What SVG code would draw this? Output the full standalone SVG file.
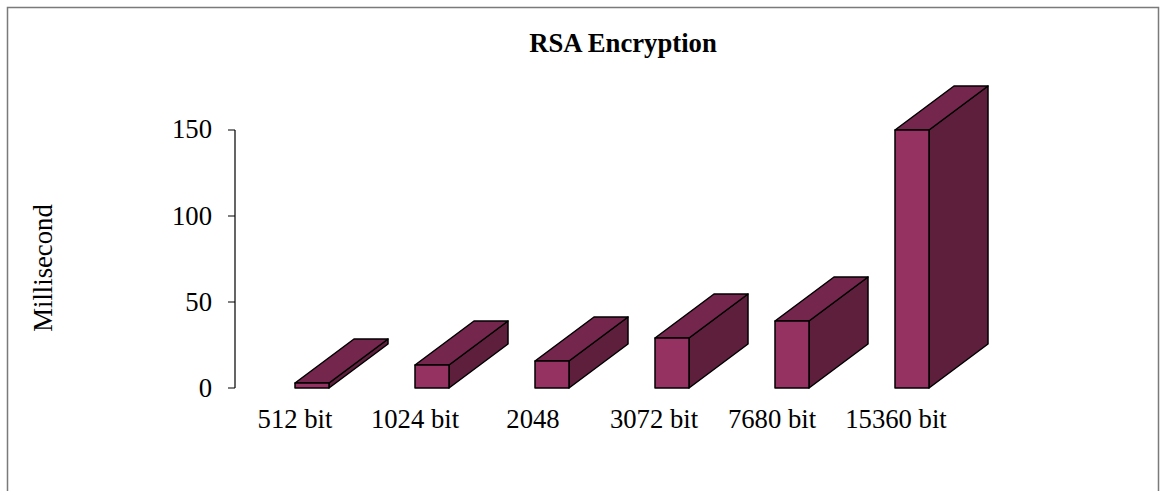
<svg xmlns="http://www.w3.org/2000/svg" width="1160" height="491" viewBox="0 0 1160 491">
  <style>
    text { font-family: "Liberation Serif", "Times New Roman", serif; font-size: 26.7px; fill: #000; }
    .title { font-weight: bold; }
    .front { fill: #953262; stroke: #000; stroke-width: 1.5; stroke-linejoin: round; }
    .top { fill: #74264d; stroke: #000; stroke-width: 1.5; stroke-linejoin: round; }
    .side { fill: #5e1f3d; stroke: #000; stroke-width: 1.5; stroke-linejoin: round; }
    .axis { stroke: #000; stroke-width: 1.2; fill: none; }
  </style>
  <rect width="1160" height="491" fill="#fff"/>
  <!-- chart frame -->
  <path d="M7.5 491 V7.5 H1158.5 V491" fill="none" stroke="#7a7a7a" stroke-width="1.5"/>

  <text class="title" x="623" y="52" text-anchor="middle">RSA Encryption</text>

  <!-- value axis -->
  <g id="y-axis">
    <path class="axis" d="M235 130 V388 M228 130 H235 M228 216 H235 M228 302 H235 M228 388 H235"/>
    <text x="212" y="138" text-anchor="end">150</text>
    <text x="212" y="225" text-anchor="end">100</text>
    <text x="212" y="311" text-anchor="end">50</text>
    <text x="212" y="397" text-anchor="end">0</text>
    <text x="0" y="0" text-anchor="middle" transform="translate(52 268) rotate(-90)">Millisecond</text>
  </g>

  <!-- bars: front face, top, side; depth offset (+59, -44) -->
  <g id="bar-512">
    <polygon class="side" points="329,383 388,339 388,344 329,388"/>
    <polygon class="top" points="295,383 354,339 388,339 329,383"/>
    <rect class="front" x="295" y="383" width="34" height="5"/>
  </g>
  <g id="bar-1024">
    <polygon class="side" points="449,365 508,321 508,344 449,388"/>
    <polygon class="top" points="415,365 474,321 508,321 449,365"/>
    <rect class="front" x="415" y="365" width="34" height="23"/>
  </g>
  <g id="bar-2048">
    <polygon class="side" points="569,361 628,317 628,344 569,388"/>
    <polygon class="top" points="535,361 594,317 628,317 569,361"/>
    <rect class="front" x="535" y="361" width="34" height="27"/>
  </g>
  <g id="bar-3072">
    <polygon class="side" points="689,338 748,294 748,344 689,388"/>
    <polygon class="top" points="655,338 714,294 748,294 689,338"/>
    <rect class="front" x="655" y="338" width="34" height="50"/>
  </g>
  <g id="bar-7680">
    <polygon class="side" points="809,321 868,277 868,344 809,388"/>
    <polygon class="top" points="775,321 834,277 868,277 809,321"/>
    <rect class="front" x="775" y="321" width="34" height="67"/>
  </g>
  <g id="bar-15360">
    <polygon class="side" points="929,130 988,86 988,344 929,388"/>
    <polygon class="top" points="895,130 954,86 988,86 929,130"/>
    <rect class="front" x="895" y="130" width="34" height="258"/>
  </g>

  <!-- category labels -->
  <g id="x-labels">
    <text x="295" y="428" text-anchor="middle">512 bit</text>
    <text x="415" y="428" text-anchor="middle">1024 bit</text>
    <text x="533" y="428" text-anchor="middle">2048</text>
    <text x="654" y="428" text-anchor="middle">3072 bit</text>
    <text x="772" y="428" text-anchor="middle">7680 bit</text>
    <text x="896" y="428" text-anchor="middle">15360 bit</text>
  </g>
</svg>
